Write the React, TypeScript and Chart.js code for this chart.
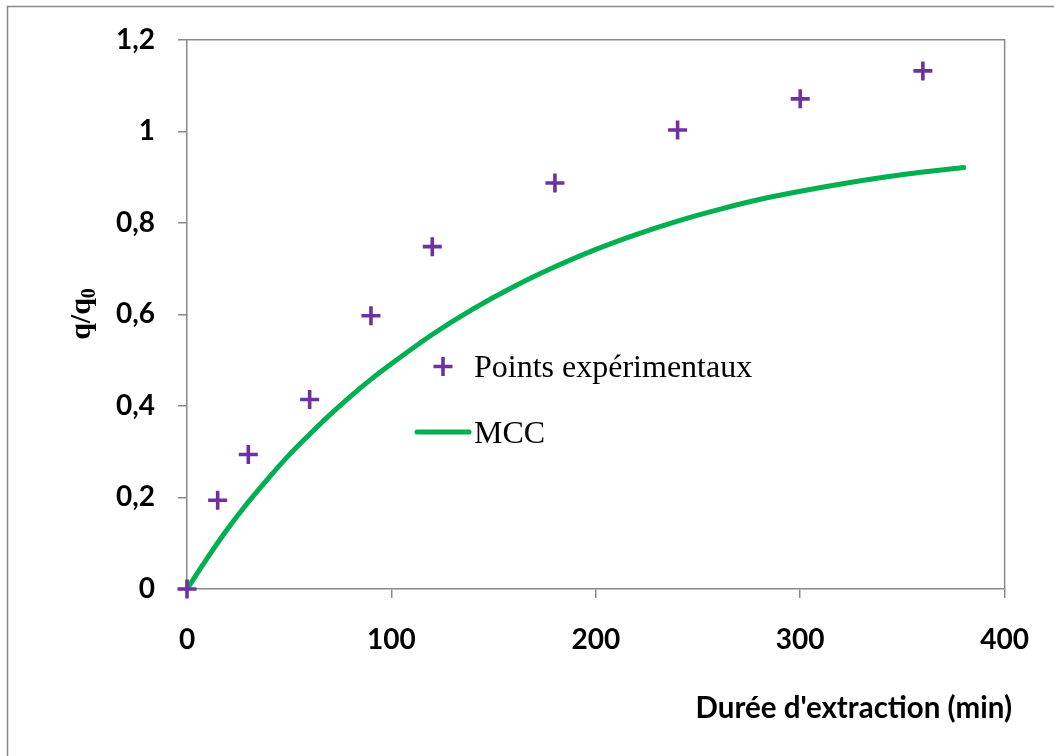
import React, { useEffect, useRef } from "react";
import { Chart, registerables } from "chart.js";

Chart.register(...registerables);

// ---- data ----
const expTimes = [0, 15, 30, 60, 90, 120, 180, 240, 300, 360];
const expValues = [0, 0.194, 0.294, 0.414, 0.597, 0.748, 0.887, 1.003, 1.071, 1.132];

const mccTimes = [0, 10, 20, 30, 40, 50, 60, 70, 80, 90, 100, 120, 140, 160, 180, 200, 220, 240, 260, 280, 300, 320, 340, 360, 380];
const mccValues = [0, 0.068, 0.132, 0.19, 0.243, 0.293, 0.338, 0.381, 0.421, 0.458, 0.492, 0.556, 0.612, 0.661, 0.704, 0.742, 0.775, 0.804, 0.829, 0.851, 0.869, 0.885, 0.899, 0.911, 0.921];

const xTicks = [0, 100, 200, 300, 400];
const yTicks = [0, 0.2, 0.4, 0.6, 0.8, 1, 1.2];

const seriesLabels = ["Points expérimentaux", "MCC"];
const xTitle = "Durée d'extraction (min)";
const yTitleMain = "q/q";
const yTitleSub = "0";

const PURPLE = "#7030A0";
const GREEN = "#00B050";
const GRAY = "#898989";

const decorPlugin = {
  id: "decor",
  beforeDraw(chart: any) {
    const ctx = chart.ctx;
    ctx.save();
    ctx.fillStyle = "#ffffff";
    ctx.fillRect(0, 0, chart.width, chart.height);
    ctx.strokeStyle = GRAY;
    ctx.lineWidth = 1.5;
    ctx.beginPath();
    ctx.moveTo(7.5, chart.height);
    ctx.lineTo(7.5, 6.5);
    ctx.lineTo(chart.width, 6.5);
    ctx.stroke();
    ctx.restore();
  },
  beforeDatasetsDraw(chart: any) {
    const ctx = chart.ctx;
    const a = chart.chartArea;
    ctx.save();
    ctx.strokeStyle = GRAY;
    ctx.lineWidth = 1.5;
    ctx.beginPath();
    ctx.moveTo(a.left, a.top);
    ctx.lineTo(a.right, a.top);
    ctx.lineTo(a.right, a.bottom);
    ctx.stroke();
    ctx.restore();
  },
  afterDraw(chart: any) {
    const ctx = chart.ctx;
    ctx.save();
    // legend
    const cx = 443, cy = 366.5, r = 9.5;
    ctx.strokeStyle = PURPLE;
    ctx.lineWidth = 3.6;
    ctx.beginPath();
    ctx.moveTo(cx - r, cy);
    ctx.lineTo(cx + r, cy);
    ctx.moveTo(cx, cy - r);
    ctx.lineTo(cx, cy + r);
    ctx.stroke();
    ctx.strokeStyle = GREEN;
    ctx.lineWidth = 5;
    ctx.lineCap = "round";
    ctx.beginPath();
    ctx.moveTo(417, 432);
    ctx.lineTo(469, 432);
    ctx.stroke();
    ctx.fillStyle = "#000000";
    ctx.font = "32px 'Liberation Serif', 'Times New Roman', serif";
    ctx.textAlign = "left";
    ctx.textBaseline = "alphabetic";
    ctx.fillText(seriesLabels[0], 474, 377);
    ctx.fillText(seriesLabels[1], 474, 443);

    // x title
    ctx.font = "bold 29.5px Lato, sans-serif";
    ctx.textAlign = "right";
    ctx.fillText(xTitle, 1012, 718);

    // y title (rotated)
    ctx.translate(90, 314);
    ctx.rotate(-Math.PI / 2);
    ctx.font = "bold 30px 'Liberation Serif', 'Times New Roman', serif";
    const w1 = ctx.measureText(yTitleMain).width;
    ctx.font = "bold 20px 'Liberation Serif', 'Times New Roman', serif";
    const w2 = ctx.measureText(yTitleSub).width;
    const start = -(w1 + w2) / 2;
    ctx.textAlign = "left";
    ctx.font = "bold 30px 'Liberation Serif', 'Times New Roman', serif";
    ctx.fillText(yTitleMain, start, 0);
    ctx.font = "bold 20px 'Liberation Serif', 'Times New Roman', serif";
    ctx.fillText(yTitleSub, start + w1, 5);
    ctx.restore();
  },
};

export default function App() {
  const ref = useRef<HTMLCanvasElement | null>(null);

  useEffect(() => {
    document.body.style.margin = "0";
    const canvas = ref.current;
    if (!canvas) return;
    const tickFont = { family: "Lato", weight: "bold" as const, size: 28 };
    const chart = new Chart(canvas, {
      type: "scatter",
      data: {
        datasets: [
          {
            label: seriesLabels[0],
            data: expTimes.map((t, i) => ({ x: t, y: expValues[i] })),
            pointStyle: "cross",
            pointRadius: 9.5,
            pointHoverRadius: 9.5,
            pointBorderWidth: 3.6,
            pointHoverBorderWidth: 3.6,
            borderColor: PURPLE,
            backgroundColor: PURPLE,
            showLine: false,
            clip: false as any,
          },
          {
            label: seriesLabels[1],
            data: mccTimes.map((t, i) => ({ x: t, y: mccValues[i] })),
            showLine: true,
            pointRadius: 0,
            pointHoverRadius: 0,
            borderColor: GREEN,
            backgroundColor: GREEN,
            borderWidth: 5,
            borderCapStyle: "round",
            borderJoinStyle: "round",
            cubicInterpolationMode: "monotone",
            clip: false as any,
          },
        ],
      },
      options: {
        animation: false,
        responsive: false,
        devicePixelRatio: 1,
        layout: { padding: { left: 0, top: 39, right: 49, bottom: 0 } },
        plugins: {
          legend: { display: false },
          tooltip: { enabled: false },
          title: { display: false },
        },
        scales: {
          x: {
            type: "linear",
            min: 0,
            max: 400,
            afterFit: (s: any) => {
              s.height = 167;
            },
            afterBuildTicks: (s: any) => {
              s.ticks = xTicks.map((v) => ({ value: v }));
            },
            grid: {
              drawOnChartArea: false,
              drawTicks: true,
              tickLength: 9,
              color: GRAY,
              lineWidth: 1.5,
            },
            border: { display: true, color: GRAY, width: 1.5 },
            ticks: {
              color: "#000000",
              font: tickFont,
              padding: 25,
              maxRotation: 0,
              callback: (v: any) => String(v),
            },
          },
          y: {
            type: "linear",
            min: 0,
            max: 1.2,
            afterFit: (s: any) => {
              s.width = 187;
            },
            afterBuildTicks: (s: any) => {
              s.ticks = yTicks.map((v) => ({ value: v }));
            },
            grid: {
              drawOnChartArea: false,
              drawTicks: true,
              tickLength: 9,
              color: GRAY,
              lineWidth: 1.5,
            },
            border: { display: true, color: GRAY, width: 1.5 },
            ticks: {
              color: "#000000",
              font: tickFont,
              padding: 23,
              callback: (v: any) => String(Math.round(Number(v) * 10) / 10).replace(".", ","),
            },
          },
        },
      },
      plugins: [decorPlugin],
    } as any);
    return () => chart.destroy();
  }, []);

  return (
    <div style={{ position: "fixed", left: 0, top: 0, width: 1054, height: 756, background: "#fff" }}>
      <canvas ref={ref} width={1054} height={756} style={{ width: 1054, height: 756, display: "block" }} />
    </div>
  );
}
